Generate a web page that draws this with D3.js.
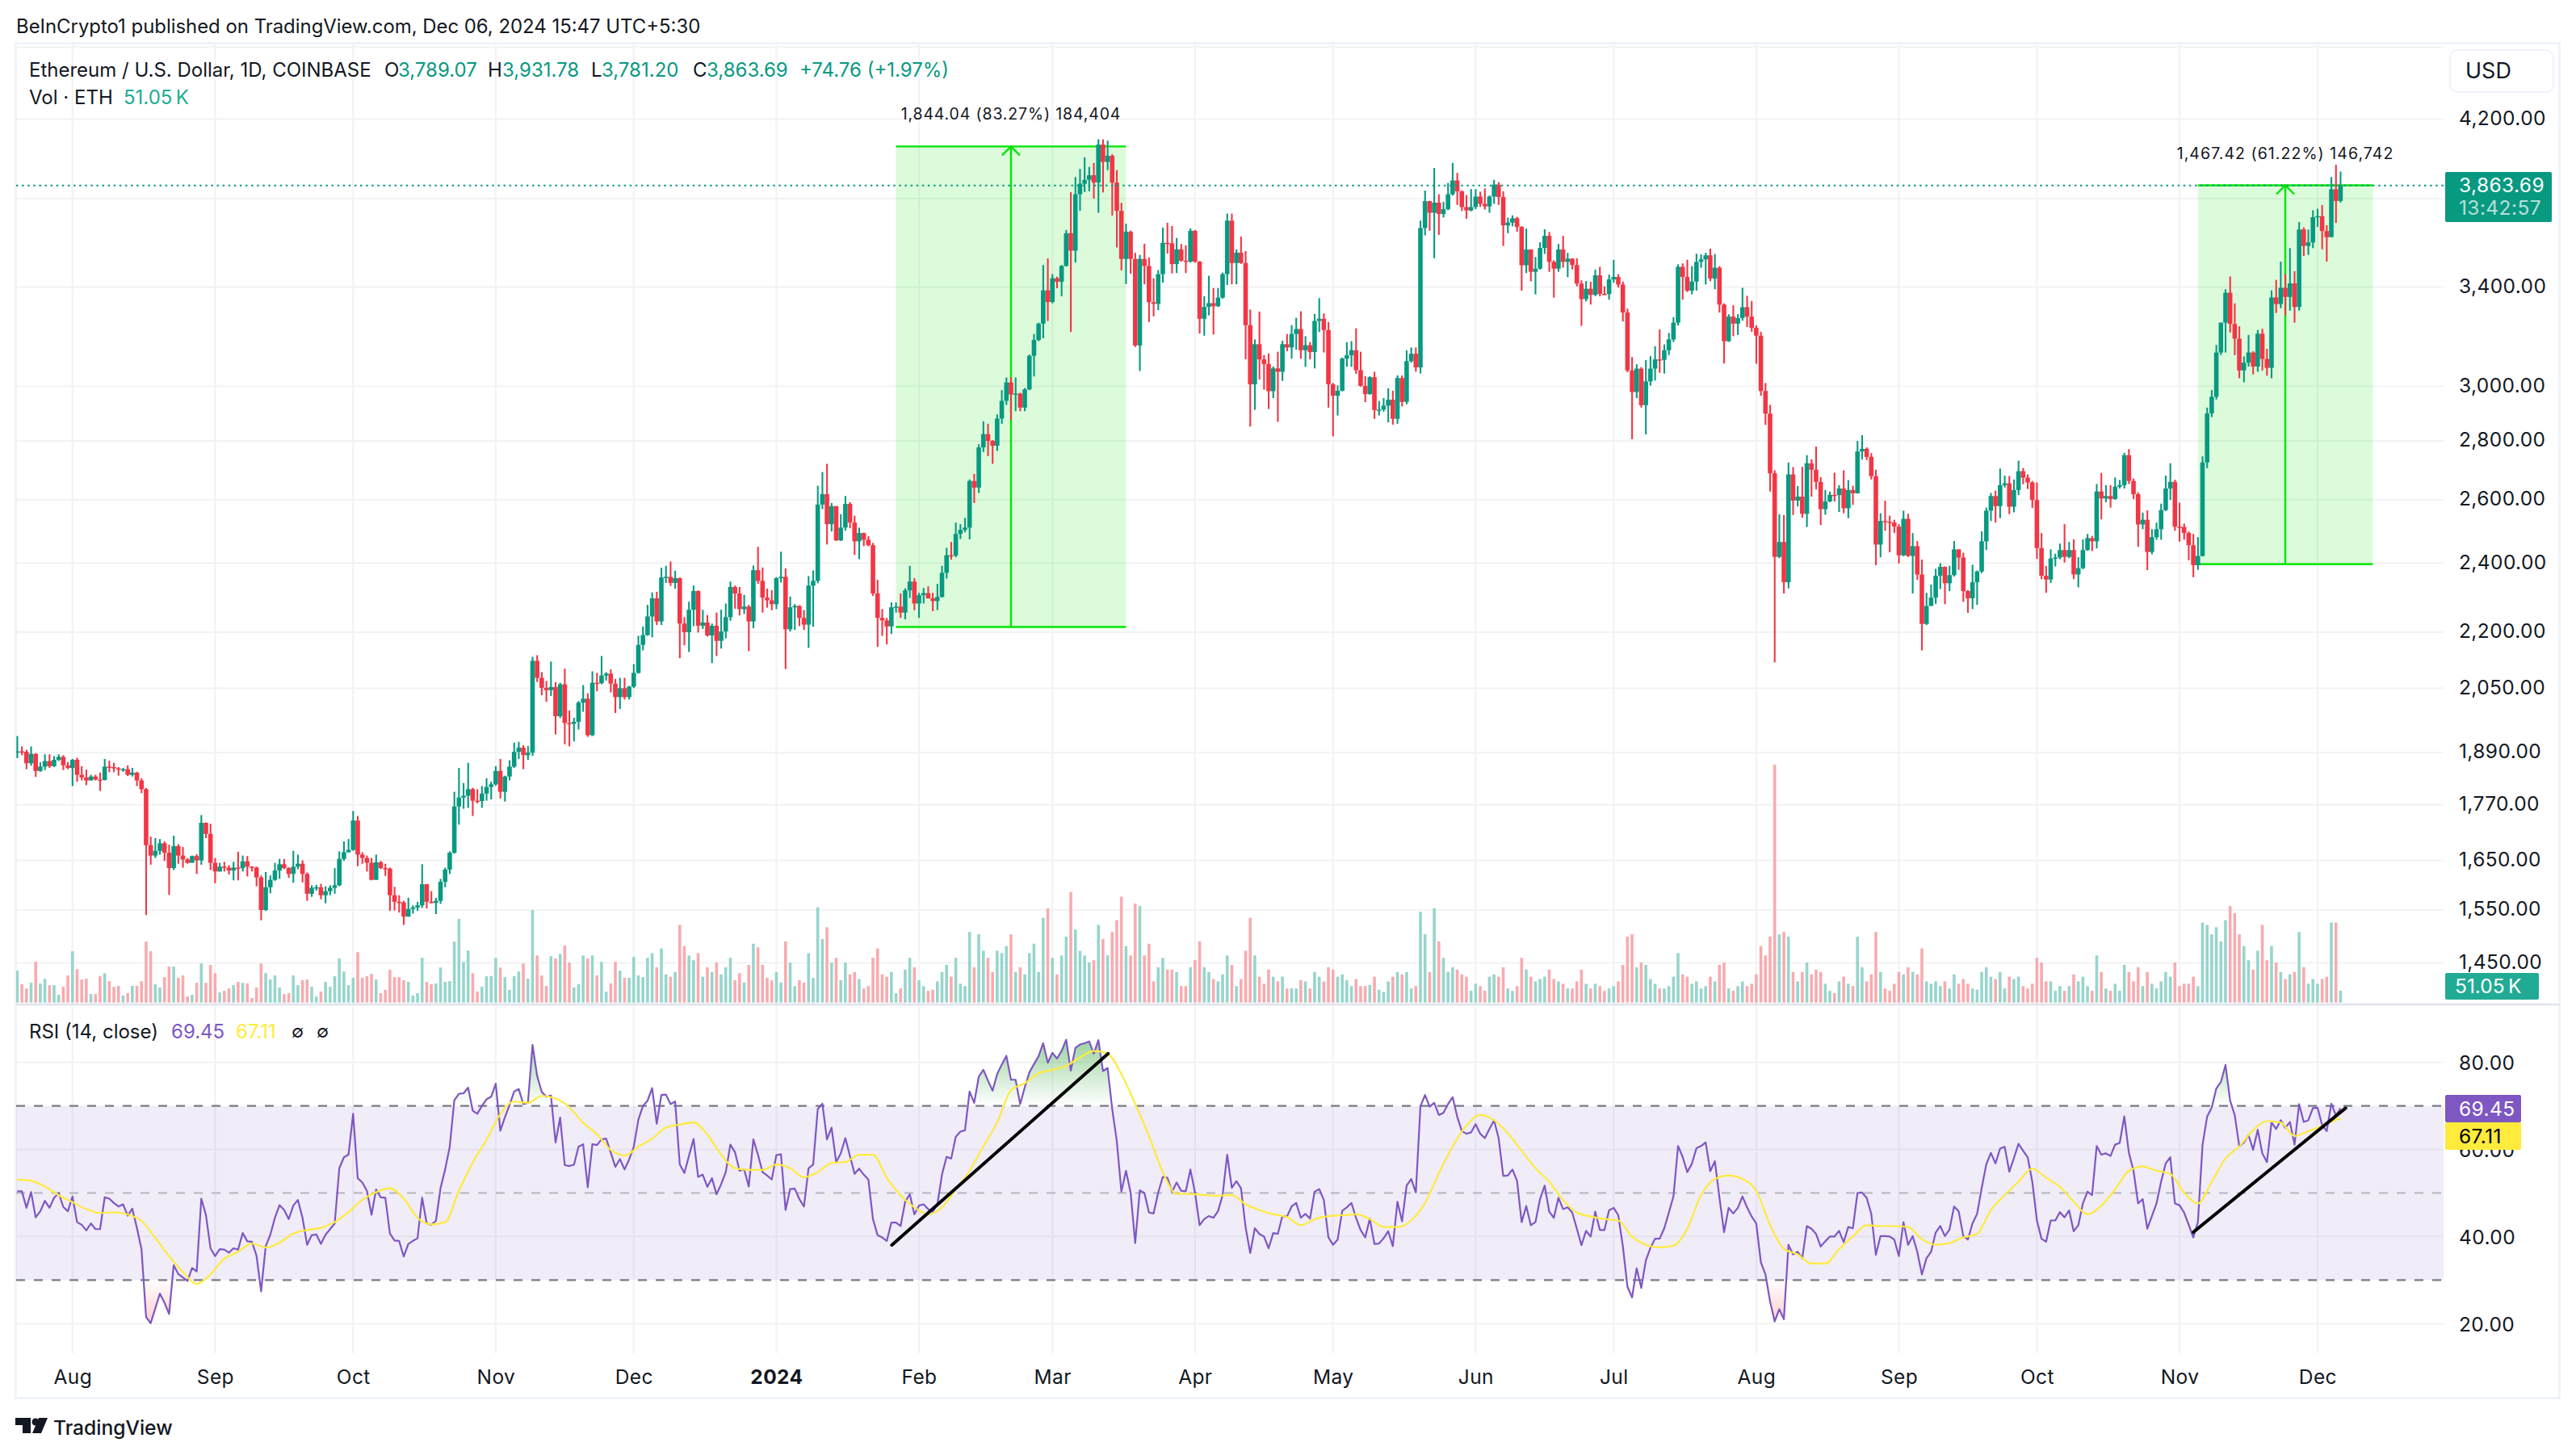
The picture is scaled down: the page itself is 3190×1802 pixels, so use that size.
<!DOCTYPE html>
<html><head><meta charset="utf-8">
<script src="https://cdn.jsdelivr.net/npm/d3@7"></script>
<style>html,body{margin:0;background:#fff}svg{display:block}text{font-family:Inter,sans-serif}</style>
</head><body><svg id="c" width="3190" height="1802"></svg>
<script>
const firstOpen=1890;
const closes=[
1893,1892,1865,1887,1847,1857,1870,1858,1873,1880,
1860,1854,1873,1838,1832,1825,1834,1827,1826,1857,
1856,1853,1850,1851,1838,1843,1825,1805,1682,1660,
1670,1686,1666,1634,1680,1660,1652,1645,1659,1650,
1730,1706,1645,1627,1637,1635,1629,1635,1634,1648,
1637,1635,1615,1550,1595,1610,1629,1642,1634,1622,
1637,1643,1622,1582,1594,1595,1579,1587,1594,1599,
1653,1667,1672,1735,1662,1655,1645,1610,1646,1634,
1633,1579,1566,1565,1537,1552,1555,1559,1601,1566,
1564,1568,1606,1631,1666,1766,1786,1790,1805,1779,
1778,1795,1810,1816,1847,1799,1834,1857,1892,1902,
1884,1890,2122,2077,2051,2045,2053,1979,2060,1962,
1960,1965,2013,2023,1932,2064,2063,2083,2088,2062,
2027,2050,2027,2054,2090,2165,2192,2244,2296,2230,
2357,2359,2341,2355,2224,2200,2263,2317,2218,2227,
2191,2218,2176,2202,2242,2329,2310,2265,2272,2230,
2379,2347,2298,2290,2279,2355,2359,2208,2270,2274,
2240,2221,2333,2347,2584,2618,2521,2579,2470,2510,
2586,2526,2467,2493,2472,2455,2310,2240,2233,2216,
2270,2272,2255,2319,2345,2281,2305,2311,2296,2288,
2300,2371,2424,2423,2490,2503,2510,2662,2640,2777,
2824,2800,2783,2880,2945,3014,2969,2972,2920,2988,
3117,3180,3246,3385,3336,3437,3422,3491,3638,3559,
3821,3872,3891,3914,3878,4068,3980,4011,3878,3742,
3522,3645,3522,3158,3522,3491,3335,3328,3455,3594,
3592,3499,3565,3514,3510,3649,3510,3266,3315,3331,
3318,3354,3455,3696,3504,3550,3504,3240,3007,3163,
3103,3085,2981,3068,3055,3163,3150,3204,3224,3139,
3159,3132,3257,3266,3220,3007,2964,2983,3106,3119,
3139,3061,3001,2970,3034,2911,2913,2927,2949,2879,
3031,2941,3096,3125,3072,3662,3788,3733,3781,3727,
3750,3821,3888,3835,3760,3744,3760,3810,3775,3763,
3810,3868,3808,3674,3687,3707,3667,3494,3564,3465,
3479,3571,3626,3509,3479,3564,3509,3523,3495,3414,
3348,3392,3366,3450,3370,3369,3432,3443,3410,3292,
3060,2978,3067,2929,3018,3067,3103,3101,3139,3182,
3250,3487,3443,3384,3423,3509,3520,3538,3436,3483,
3325,3175,3275,3246,3269,3314,3275,3229,3197,2982,
2898,2688,2419,2465,2343,2684,2597,2610,2554,2722,
2700,2659,2569,2594,2616,2615,2637,2572,2632,2621,
2763,2772,2744,2678,2457,2531,2528,2526,2513,2424,
2538,2422,2452,2366,2223,2274,2298,2362,2389,2340,
2364,2442,2417,2317,2296,2343,2375,2467,2564,2612,
2579,2648,2654,2577,2632,2695,2673,2657,2599,2446,
2362,2351,2414,2417,2440,2419,2440,2366,2385,2440,
2477,2467,2627,2604,2612,2602,2643,2648,2750,2662,
2618,2520,2535,2434,2480,2505,2566,2637,2659,2513,
2512,2493,2455,2394,2422,2725,2899,2960,3130,3250,
3375,3245,3185,3060,3090,3130,3075,3205,3105,3070,
3355,3327,3396,3357,3415,3315,3655,3580,3596,3712,
3717,3648,3620,3845,3789,3863.69];
const highs=[
1930,1905,1897,1905,1889,1867,1886,1886,1882,1886,
1884,1868,1875,1878,1858,1850,1838,1838,1843,1875,
1871,1866,1856,1854,1860,1854,1845,1830,1808,1700,
1697,1695,1690,1683,1702,1684,1678,1655,1660,1663,
1747,1731,1728,1655,1645,1647,1640,1647,1668,1660,
1659,1638,1637,1619,1626,1619,1645,1653,1653,1636,
1670,1662,1650,1625,1599,1600,1602,1597,1599,1634,
1669,1690,1695,1756,1745,1667,1660,1655,1662,1649,
1643,1635,1596,1579,1568,1574,1559,1566,1642,1602,
1587,1574,1612,1635,1669,1799,1854,1819,1866,1808,
1805,1812,1830,1822,1858,1875,1836,1872,1914,1916,
1908,1906,2133,2137,2092,2069,2120,2066,2064,2101,
1993,1975,2017,2058,2037,2094,2090,2135,2092,2099,
2074,2077,2077,2056,2113,2190,2216,2277,2313,2315,
2386,2392,2405,2377,2357,2242,2286,2333,2319,2263,
2248,2224,2255,2263,2281,2345,2333,2329,2306,2277,
2393,2450,2387,2324,2320,2358,2435,2384,2301,2279,
2276,2262,2361,2378,2646,2692,2720,2589,2579,2553,
2612,2592,2548,2510,2494,2483,2462,2350,2265,2240,
2284,2284,2310,2325,2392,2355,2312,2326,2331,2312,
2338,2392,2447,2465,2526,2521,2541,2667,2686,2788,
2870,2861,2803,2895,2985,3033,3033,3033,2975,2993,
3122,3204,3250,3495,3524,3455,3444,3495,3653,3831,
3905,3945,4003,3955,3975,4095,4095,4088,4019,3939,
3780,3682,3650,3549,3540,3590,3528,3437,3473,3664,
3686,3671,3616,3589,3583,3660,3653,3512,3360,3448,
3395,3395,3462,3729,3729,3565,3623,3557,3304,3182,
3296,3120,3126,3075,3133,3177,3204,3240,3270,3297,
3195,3172,3286,3352,3288,3253,3012,3003,3110,3171,
3175,3227,3133,3038,3038,3055,2945,2955,2992,2983,
3041,3041,3139,3150,3150,3696,3839,3790,3950,3821,
3785,3876,3975,3925,3840,3817,3846,3846,3833,3849,
3815,3891,3880,3836,3710,3721,3714,3670,3659,3565,
3531,3597,3656,3644,3516,3589,3626,3549,3525,3525,
3428,3425,3422,3475,3487,3402,3453,3518,3455,3423,
3308,3112,3084,3073,3100,3116,3155,3222,3162,3208,
3273,3498,3502,3518,3490,3545,3542,3549,3568,3544,
3490,3330,3285,3322,3285,3396,3362,3340,3239,3213,
3012,2930,2698,2553,2550,2725,2709,2645,2710,2750,
2736,2780,2675,2632,2627,2690,2648,2698,2665,2646,
2800,2820,2777,2757,2700,2556,2597,2548,2535,2521,
2564,2554,2493,2468,2411,2312,2336,2383,2400,2390,
2392,2468,2442,2432,2320,2395,2378,2498,2574,2622,
2630,2704,2680,2679,2667,2731,2706,2684,2662,2657,
2493,2392,2442,2429,2460,2521,2465,2473,2418,2473,
2490,2484,2652,2689,2648,2648,2674,2665,2758,2771,
2670,2624,2558,2565,2505,2526,2587,2680,2722,2666,
2590,2523,2498,2490,2480,2746,2920,2985,3160,3250,
3390,3445,3330,3235,3115,3200,3135,3220,3225,3145,
3385,3430,3510,3455,3570,3468,3690,3665,3655,3745,
3752,3770,3675,3905,3966,3931.78];
const lows=[
1877,1884,1851,1859,1833,1845,1849,1854,1856,1870,
1849,1851,1812,1822,1825,1814,1825,1825,1801,1825,
1844,1844,1836,1845,1835,1834,1812,1796,1540,1641,
1655,1662,1649,1580,1630,1643,1635,1643,1645,1622,
1641,1697,1630,1603,1627,1627,1621,1609,1609,1627,
1617,1627,1597,1530,1548,1583,1608,1612,1632,1614,
1604,1632,1605,1568,1576,1588,1571,1563,1579,1582,
1597,1649,1666,1670,1638,1643,1627,1609,1610,1632,
1618,1548,1549,1545,1521,1537,1543,1548,1554,1553,
1563,1542,1562,1595,1622,1664,1726,1761,1763,1745,
1773,1763,1779,1782,1813,1784,1777,1825,1854,1875,
1851,1873,1882,2066,2032,2015,2030,1934,1974,1910,
1905,1917,1946,1990,1928,1930,2042,2060,2070,2039,
1987,1997,2021,2021,2050,2088,2150,2190,2186,2220,
2220,2341,2332,2324,2129,2164,2146,2217,2199,2209,
2188,2116,2135,2155,2183,2232,2266,2247,2251,2148,
2211,2338,2255,2269,2262,2265,2342,2100,2202,2206,
2217,2206,2157,2215,2340,2569,2457,2498,2468,2468,
2500,2508,2425,2412,2452,2452,2303,2160,2190,2166,
2195,2255,2240,2236,2297,2262,2240,2281,2295,2259,
2262,2298,2354,2411,2418,2474,2495,2473,2589,2622,
2761,2747,2720,2765,2861,2930,2875,2907,2907,2907,
2985,3037,3175,3187,3257,3330,3394,3360,3488,3212,
3506,3742,3832,3835,3800,3733,3830,3939,3720,3573,
3471,3412,3457,3152,3058,3411,3253,3276,3302,3418,
3546,3458,3460,3510,3460,3505,3505,3206,3197,3280,
3202,3315,3350,3408,3411,3411,3500,3103,2851,2912,
3025,2987,2915,2955,2868,3020,3135,3106,3141,3106,
3074,3103,3068,3212,3130,2920,2816,2891,2980,3074,
3074,3047,2998,2940,2968,2879,2891,2905,2866,2858,
2861,2924,2932,3090,3055,3048,3628,3649,3525,3630,
3711,3745,3815,3770,3741,3705,3740,3750,3760,3748,
3733,3775,3770,3580,3638,3670,3645,3384,3460,3424,
3368,3475,3544,3465,3354,3465,3483,3442,3476,3402,
3237,3338,3325,3360,3360,3365,3346,3418,3397,3255,
3053,2806,2955,2920,2823,3002,3021,3051,3048,3120,
3172,3238,3346,3378,3368,3384,3483,3410,3424,3390,
3292,3087,3172,3195,3200,3258,3232,3213,3086,2964,
2857,2627,2118,2415,2310,2325,2550,2578,2541,2512,
2610,2634,2518,2551,2592,2594,2560,2556,2540,2583,
2620,2735,2733,2667,2394,2418,2500,2433,2493,2399,
2421,2419,2310,2350,2150,2220,2275,2280,2323,2279,
2317,2360,2380,2286,2254,2265,2277,2370,2440,2531,
2526,2540,2640,2553,2559,2615,2651,2635,2573,2413,
2352,2312,2341,2390,2412,2402,2415,2352,2328,2382,
2438,2437,2445,2536,2592,2574,2600,2637,2637,2652,
2602,2450,2505,2379,2427,2472,2472,2563,2599,2500,
2466,2472,2409,2358,2380,2420,2705,2885,2950,3120,
3130,3210,3120,3030,3015,3075,3045,3055,3060,3040,
3030,3290,3310,3280,3300,3250,3300,3535,3540,3570,
3667,3565,3510,3620,3685,3781.20];
const volumes=[
136,78,60,84,173,81,101,74,74,33,67,115,218,142,98,101,36,36,112,125,
91,67,71,30,40,71,71,91,259,218,78,64,108,153,153,105,115,26,33,84,
166,84,160,125,43,50,60,74,88,84,81,19,64,166,125,98,115,64,36,40,
115,74,95,98,67,26,47,88,67,112,187,132,74,105,214,105,112,122,98,40,
54,139,108,108,95,88,30,40,190,88,78,81,149,88,91,259,355,173,221,125,
47,67,112,112,190,149,108,54,112,132,166,101,393,200,115,71,197,187,207,242,
170,64,78,200,187,200,115,173,47,81,173,136,105,105,194,115,108,
190,210,150,230,120,110,130,330,240,200,
180,210,110,150,130,170,120,150,190,95,
125,85,160,250,235,160,105,95,130,85,
260,170,70,95,85,210,105,405,270,320,
170,190,95,170,120,130,100,60,70,190,
230,120,110,130,40,60,140,190,150,95,
70,50,55,90,130,160,110,190,80,70,
300,150,290,220,190,130,220,210,240,290,
130,150,120,210,250,130,360,400,190,120,
200,280,470,310,220,200,170,180,330,270,
200,300,350,450,240,200,420,410,200,250,
90,150,190,140,140,130,70,70,150,180,
260,150,130,100,90,120,200,160,70,100,
220,360,200,110,80,140,110,90,110,60,
60,60,95,90,60,130,110,90,150,140,
110,120,95,70,100,70,70,75,110,55,
45,90,110,130,120,130,60,70,385,290,
130,400,260,190,130,150,140,120,110,50,
80,70,50,110,120,110,150,60,50,70,
190,140,110,90,100,110,140,100,90,80,
60,60,90,140,80,60,80,70,50,60,
70,90,160,280,290,150,170,160,100,80,
60,60,70,110,210,120,110,80,90,60,
70,110,90,160,170,60,50,70,90,70,
80,120,240,200,280,1010,290,300,280,130,
90,130,170,120,140,130,80,50,40,90,
110,80,70,280,150,90,120,300,130,60,
50,80,130,120,150,130,120,230,90,80,
90,70,90,60,120,80,100,80,60,55,
130,150,110,100,130,60,110,100,110,70,
60,80,190,170,90,90,50,70,50,70,
120,90,110,70,50,200,130,60,50,80,
50,160,130,90,150,70,130,80,60,90,
130,110,170,70,80,80,110,70,340,330,
290,320,260,350,410,380,290,240,180,140,
220,330,180,240,170,130,100,120,130,300,
150,80,100,80,100,110,340,340,51.05];
const rsi=[
50.4,50.4,46.6,50.2,44.4,45.8,48.2,46.6,48.9,50,
46.8,45.8,49.2,43.3,42.7,41.4,43,41.7,41.7,49,
48.7,47.7,46.9,47.4,44.8,46.4,42,37.1,21.5,20.1,
23.5,26.9,24.8,22.2,33.4,31.4,30.6,29.8,32.8,32,
48.7,45,37.3,35.5,37.1,37,36.3,37.3,37,40.8,
38.9,38.8,35.6,27.4,37.8,40.4,44.3,47.2,46.1,44,
47.1,48.4,44.3,38.1,40.3,40.5,38.3,40.4,41.7,43,
55.7,58.2,58.8,68.2,53.4,52.4,50.5,45,50.8,49,
48.9,40.7,39.1,39,35.4,38.3,39,39.6,48.9,43,
42.7,43.6,51.1,55.4,60.6,71.3,72.8,72.9,74.2,68.9,
68.2,70,71.5,72.1,75.1,64.3,67.4,70.2,73.3,73.9,
70.4,70.7,84,76.9,73.2,72.1,72.4,61.6,67.3,56.4,
56.2,56.5,60.6,61.2,51.3,61.2,61,62.3,62.5,59.3,
56,57.8,55.4,57.7,60.6,66.8,70,71.2,74.1,65.9,
72.5,72.6,70.4,71,56.6,54.6,58.5,62.4,53.7,54.2,
51.4,53.4,49.7,52,54.8,61.1,59.4,55.1,55.4,51.5,
62.3,58.8,54.8,54,53.1,58.7,58.9,46.1,50.9,51,
48.6,46.9,55.7,56.5,69.3,70.5,62.3,65,57.1,59.1,
62.6,58.5,54.4,55.6,54.2,53.1,44,40.3,39.8,39,
43.2,43.2,42.4,48,49.7,45.1,47.1,47.4,46.3,45.7,
47.4,54.2,58.3,57.9,62.9,64.1,64.4,73.3,70.7,76.7,
78.3,75.8,73.5,77.3,79.5,81.5,76,76,70.4,74.3,
77.7,79.6,81.4,84.4,79.9,82.2,80.9,82.6,85.2,78.1,
83.3,84.1,84.4,84.8,82,85.1,78,78.7,69.3,61.9,
50.3,55.1,50.1,38.5,50.6,50,45.5,45.3,50.1,53.7,
53.5,50.3,52.4,50.5,50.4,55.4,50.1,42.6,44,44.7,
44.3,45.8,49.5,58.8,51.2,52.7,51.1,42.1,36.2,41.9,
40.6,40,37.3,40.8,40.6,44.7,44.6,46.9,47.7,44.3,
45.2,44.1,50.3,50.9,48.4,39.8,38.1,39.3,45.9,46.7,
47.7,44.3,41.5,39.8,44.1,38.3,38.4,39.6,41.2,37.8,
48,43.5,51.7,53.2,50.1,69.9,72.5,69.8,70.7,67.9,
68.4,70.4,72,67.5,64.2,63.6,63.9,65.8,63.6,62.6,
64.7,66.7,62.6,53.9,54,55.4,52.8,43.3,47,42.6,
43.3,48.6,51.7,45.7,44.3,48.9,46.3,46.7,45.5,41.8,
38,41.3,40,45.7,41.5,41.5,46,46.6,44.9,37.8,
28.5,26,32.7,28.2,34.5,37.4,39.5,39.5,41.9,45.5,
49.2,60.8,58.3,54.8,56.7,60.3,60.8,61.6,55,57.3,
48.9,41,46.6,45.3,46.6,49.2,46.7,44.6,43,34.1,
31.3,25.1,20.5,23.3,21,38.1,35.9,36.5,35,42.4,
41.8,40.6,37.7,38.9,40,40,41.3,38.7,42.2,41.9,
50,50.1,48.9,45.2,35.8,40.1,40.1,40,39.3,35.5,
43.3,38.1,40.1,36.5,31.3,35,36.5,40.9,42.4,40.1,
41.6,46.9,45.8,40.1,39.3,43,45.2,51.1,56.6,59.2,
56.8,60.2,60.6,54.9,58,61.3,59.7,58.2,52.6,43.7,
39.5,38.8,43.7,43.7,45.6,44.4,46,41.2,42.6,47.6,
50.3,49.5,60.8,58.8,59.1,58.5,61.1,61.5,67.6,59.2,
55.1,47.6,48.6,41.8,44.7,47.6,52.6,56.8,58.2,47.6,
47.2,45.5,42.7,39.8,43.3,61,67.5,69.6,74,75.5,
79.4,71.2,67.9,60.7,61.6,63.3,59.9,64.5,59.1,57.1,
66.2,64.7,66.7,65,66.3,61.1,70.4,66.3,66.7,69.5,
69.6,65.6,64.2,70.5,67.8,69.45];
const rsiMaEvery3=[
53.1,52.8,51.5,49.5,47.9,46.3,45.4,45.6,45.1,43.6,
39.7,35.5,31.9,29.1,31.3,34.9,36.5,38.4,37.5,38.6,
40.7,41.5,42,43.3,45.6,48.4,50.2,51.1,48.7,44.3,
42.8,43.3,50.5,57,62.2,68.1,71,70.7,72.3,71.7,
69.7,66.1,63.5,59.9,58.6,60.6,62.5,65,65.7,66.2,
63.4,58.8,55.7,55.3,55.3,56.5,55.7,53.6,54.8,56.9,
57.1,58.8,58.8,53.5,49.5,46.7,45.1,46.7,50.8,55.1,
60.7,66.2,73.6,75.2,77.5,78.3,79.2,81.1,82.6,82,
77.3,70.5,63.1,54.8,49.8,49.8,49.5,49.4,49.5,47.4,
46.1,45.1,44.5,42.6,44,44.7,44.9,45.1,44,42.2,
42.2,43.7,47.7,54.5,60.7,65.5,67.9,66.7,63.7,59.7,
55.7,52.6,48.4,45.5,44.6,44,43.7,40,38.1,37.5,
37.9,41.8,49.5,53.2,54,53.2,50.5,42.7,37.2,35.9,
33.8,33.8,37.1,40,42.6,42.4,42.4,42.2,39.4,38.1,
38.5,39.8,40.6,46.1,49.5,52.6,55.6,53.5,51.4,48,
45.1,47.1,50.8,55.1,56.1,55.1,54.4,50.1,47.6,52.6,
57.9,60.7,64.4,66.5,66.2,63.1,64.2,65.4,66.8,67.11];
const rsiMaIndex=d3.range(0,505,3).concat([505]);
const priceLabels=[4200,3400,3000,2800,2600,2400,2200,2050,1890,1770,1650,1550,1450];
const priceGrid=[4600,4200,3800,3400,3000,2800,2600,2400,2200,2050,1890,1770,1650,1550,1450];
const rsiLabels=[80,60,40,20];
const monthTicks=[[2023,7],[2023,8],[2023,9],[2023,10],[2023,11],[2024,0],[2024,1],[2024,2],[2024,3],[2024,4],[2024,5],[2024,6],[2024,7],[2024,8],[2024,9],[2024,10],[2024,11]].map(d=>new Date(Date.UTC(d[0],d[1],1)));
const measures=[{from:2214.5,to:4058.54,i0:191,i1:241,iArrow:216,label:"1,844.04 (83.27%) 184,404"},
                {from:2397,to:3864.42,i0:474,i1:512,iArrow:493,label:"1,467.42 (61.22%) 146,742"}];
const trendlines=[[190.1,38.05,237.1,82],[473,41,506.1,69.5]];

const GREEN="#089981",RED="#F23645",INK="#131722",GRID="#F3F3F5",FRAME="#F0F3FA";
const day=i=>new Date(Date.UTC(2023,6,20+i));
const x=d3.scaleUtc().domain([day(0),day(505)]).range([21.4,2898.4]);
const yP=d3.scaleLog().domain([4200,1450]).range([147.7,1192.5]);
const yV=d3.scaleLinear().domain([0,1000]).range([1241.7,950]);
const yR=d3.scaleLinear().domain([20,80]).range([1639.3,1315.7]);
const L=20,R=3026,xi=i=>x(day(0))+(x(day(1))-x(day(0)))*i;
const svg=d3.select("#c");
const defs=svg.append("defs");
defs.append("clipPath").attr("id","pl").append("rect").attr("x",L).attr("y",53).attr("width",R-L).attr("height",1191);
defs.append("clipPath").attr("id","ob").append("rect").attr("x",L).attr("y",1250).attr("width",R-L).attr("height",yR(70)-1250);
defs.append("clipPath").attr("id","os").append("rect").attr("x",L).attr("y",yR(30)).attr("width",R-L).attr("height",100);
const g1=defs.append("linearGradient").attr("id","gOb").attr("gradientUnits","userSpaceOnUse").attr("x1",0).attr("x2",0).attr("y1",yR(85)).attr("y2",yR(70));
g1.append("stop").attr("offset",0).attr("stop-color","#4CAF50").attr("stop-opacity",.55);
g1.append("stop").attr("offset",1).attr("stop-color","#4CAF50").attr("stop-opacity",0);
const g2=defs.append("linearGradient").attr("id","gOs").attr("gradientUnits","userSpaceOnUse").attr("x1",0).attr("x2",0).attr("y1",yR(30)).attr("y2",yR(20));
g2.append("stop").attr("offset",0).attr("stop-color","#FF5252").attr("stop-opacity",0);
g2.append("stop").attr("offset",1).attr("stop-color","#FF5252").attr("stop-opacity",.3);

// frame
svg.append("rect").attr("x",19.5).attr("y",53.5).attr("width",3150).attr("height",1678).attr("fill","none").attr("stroke",FRAME).attr("stroke-width",3);
// grid
const grid=svg.append("g").attr("stroke",GRID).attr("stroke-width",2.2);
grid.selectAll(".v").data(monthTicks).join("line").attr("x1",d=>x(d)).attr("x2",d=>x(d)).attr("y1",54).attr("y2",1676);
grid.selectAll(".h").data(priceGrid).join("line").attr("x1",L).attr("x2",R).attr("y1",d=>yP(d)).attr("y2",d=>yP(d));
svg.append("line").attr("x1",L).attr("x2",3170).attr("y1",1244).attr("y2",1244).attr("stroke","#E0E3EB").attr("stroke-width",2.5);
// RSI band
svg.append("rect").attr("x",L).attr("width",R-L).attr("y",yR(70)).attr("height",yR(30)-yR(70)).attr("fill","#7E57C2").attr("fill-opacity",.115);
svg.append("g").attr("stroke-width",2.2).selectAll("line").data(rsiLabels).join("line").attr("x1",L).attr("x2",R).attr("y1",d=>yR(d)).attr("y2",d=>yR(d)).attr("stroke",d=>(d==60||d==40)?"#E6E3EE":GRID);
svg.selectAll(".rd").data([[70,"#787B86"],[50,"#B4B5BA"],[30,"#787B86"]]).join("line").attr("x1",L).attr("x2",R).attr("y1",d=>yR(d[0])).attr("y2",d=>yR(d[0])).attr("stroke",d=>d[1]).attr("stroke-width",2.2).attr("stroke-dasharray","11 11");

// measure boxes
const mg=svg.append("g");
measures.forEach(m=>{
  const a=xi(m.i0),b=xi(m.i1),t=yP(m.to),f=yP(m.from),c=xi(m.iArrow);
  mg.append("rect").attr("x",a).attr("width",b-a).attr("y",t).attr("height",f-t).attr("fill","#00E600").attr("fill-opacity",.14);
  mg.selectAll(null).data([t,f]).join("line").attr("x1",a).attr("x2",b).attr("y1",d=>d).attr("y2",d=>d).attr("stroke","#00E600").attr("stroke-width",2.4);
  mg.append("line").attr("x1",c).attr("x2",c).attr("y1",t).attr("y2",f).attr("stroke","#00E600").attr("stroke-width",2.4);
  mg.append("path").attr("d",`M${c-11},${t+11}L${c},${t}L${c+11},${t+11}`).attr("fill","none").attr("stroke","#00E600").attr("stroke-width",2.4);
  mg.append("text").attr("x",c).attr("y",t-40).attr("text-anchor","middle").attr("dominant-baseline","central").attr("font-size",19.5).attr("fill",INK).attr("letter-spacing",m.i0>300?1.05:.85).text(m.label);
});

const opens=closes.map((c,i)=>i?closes[i-1]:firstOpen);
const up=i=>closes[i]>=opens[i];
const plot=svg.append("g").attr("clip-path","url(#pl)");
plot.append("g").selectAll("rect").data(volumes).join("rect")
  .attr("x",(d,i)=>xi(i)-1.8).attr("width",3.6).attr("y",d=>yV(d)).attr("height",d=>yV(0)-yV(d))
  .attr("fill",(d,i)=>up(i)?"#97D5CC":"#F8ABAF");
const cg=plot.append("g");
cg.selectAll(".w").data(closes).join("rect").attr("x",(d,i)=>xi(i)-1).attr("width",2.1)
  .attr("y",(d,i)=>yP(Math.max(highs[i],d,opens[i]))).attr("height",(d,i)=>yP(Math.min(lows[i],d,opens[i]))-yP(Math.max(highs[i],d,opens[i])))
  .attr("fill",(d,i)=>up(i)?GREEN:RED);
cg.selectAll(".b").data(closes).join("rect").attr("x",(d,i)=>xi(i)-2.8).attr("width",5.6)
  .attr("y",(d,i)=>yP(Math.max(d,opens[i]))).attr("height",(d,i)=>Math.max(1.5,Math.abs(yP(d)-yP(opens[i]))))
  .attr("fill",(d,i)=>up(i)?GREEN:RED);
// last price line
svg.append("line").attr("x1",L).attr("x2",R).attr("y1",yP(3863.69)).attr("y2",yP(3863.69)).attr("stroke",GREEN).attr("stroke-width",2).attr("stroke-dasharray","2.5 4.6");

// RSI
const rsiLine=d3.line().x((d,i)=>xi(i)).y(d=>yR(d));
const area70=d3.area().x((d,i)=>xi(i)).y0(yR(70)).y1(d=>yR(d));
const area30=d3.area().x((d,i)=>xi(i)).y0(yR(30)).y1(d=>yR(d));
svg.append("path").attr("d",area70(rsi)).attr("fill","url(#gOb)").attr("clip-path","url(#ob)");
svg.append("path").attr("d",area30(rsi)).attr("fill","url(#gOs)").attr("clip-path","url(#os)");
svg.append("path").attr("d",rsiLine(rsi)).attr("fill","none").attr("stroke","#7E57C2").attr("stroke-width",2.2).attr("stroke-linejoin","round");
svg.append("path").attr("d",d3.line().x((d,k)=>xi(rsiMaIndex[k])).y(d=>yR(d)).curve(d3.curveMonotoneX)(rsiMaEvery3)).attr("fill","none").attr("stroke","#FFEB3B").attr("stroke-width",2.2);
svg.selectAll(".tl").data(trendlines).join("line").attr("x1",d=>xi(d[0])).attr("y1",d=>yR(d[1])).attr("x2",d=>xi(d[2])).attr("y2",d=>yR(d[3])).attr("stroke","#000").attr("stroke-width",4).attr("stroke-linecap","round");

// axes
const fs=24.5;
const axP=svg.append("g").attr("transform","translate(3045,-1)").call(d3.axisRight(yP).tickValues(priceLabels).tickFormat(d3.format(",.2f")).tickSize(0).tickPadding(0));
const axR=svg.append("g").attr("transform","translate(3045,1)").call(d3.axisRight(yR).tickValues(rsiLabels).tickFormat(d3.format(".2f")).tickSize(0).tickPadding(0));
const axX=svg.append("g").attr("transform","translate(0,1697)").call(d3.axisBottom(x).tickValues(monthTicks).tickSize(0).tickPadding(0).tickFormat(d=>d.getUTCMonth()==0?"2024":d3.utcFormat("%b")(d)));
[axP,axR,axX].forEach(a=>{a.select(".domain").remove();a.selectAll("text").attr("font-family","Inter,sans-serif").attr("font-size",fs).attr("fill",INK).attr("letter-spacing",.4);});
axX.selectAll("text").filter(d=>d.getUTCMonth()==0).attr("font-weight",700);

function T(xp,yp,s,o={}){return svg.append("text").attr("x",xp).attr("y",yp).attr("dominant-baseline","central").attr("font-size",o.size||24).attr("fill",o.fill||INK).attr("font-weight",o.w||400).attr("text-anchor",o.a||"start").attr("letter-spacing",o.ls||0).attr("opacity",o.op||1).text(s);}
// top text
T(20,32,"BeInCrypto1 published on TradingView.com, Dec 06, 2024 15:47 UTC+5:30",{size:23.9});
T(36,86,"Ethereum / U.S. Dollar, 1D, COINBASE",{size:24});
[[476,"O"],[604,"H"],[732,"L"],[858,"C"]].forEach(d=>T(d[0],86,d[1]));
[[493,"3,789.07"],[622,"3,931.78"],[745,"3,781.20"],[875,"3,863.69"],[990,"+74.76 (+1.97%)"]].forEach(d=>T(d[0],86,d[1],{fill:GREEN}));
T(36,120,"Vol · ETH");T(153,120,"51.05\u202FK",{fill:"#22AB94"});
T(36,1277,"RSI (14, close)");T(212,1277,"69.45",{fill:"#7E57C2"});T(292,1277,"67.11",{fill:"#FFEB3B"});
T(361,1277,"∅",{size:22});T(392,1277,"∅",{size:22});
// USD button
svg.append("rect").attr("x",3034).attr("y",62).attr("width",128).attr("height",52).attr("rx",9).attr("fill","#fff").attr("stroke",FRAME).attr("stroke-width",2);
T(3053,87,"USD",{size:27});
// badges
svg.append("rect").attr("x",3028).attr("y",213).attr("width",132).attr("height",62).attr("rx",2).attr("fill",GREEN);
T(3045,229,"3,863.69",{size:24.5,fill:"#fff",ls:.4});T(3045,257,"13:42:57",{size:24.5,fill:"#fff",op:.7,ls:.4});
svg.append("rect").attr("x",3028).attr("y",1205).attr("width",116).attr("height",33).attr("rx",2).attr("fill","#22AB94");
T(3040,1221,"51.05\u202FK",{size:24.5,fill:"#fff"});
svg.append("rect").attr("x",3028).attr("y",1356).attr("width",94).attr("height",34).attr("rx",2).attr("fill","#7E57C2");
T(3045,1373,"69.45",{size:24.5,fill:"#fff",ls:.4});
svg.append("rect").attr("x",3028).attr("y",1390).attr("width",94).attr("height",34).attr("rx",2).attr("fill","#FFEB3B");
T(3045,1407,"67.11",{size:24.5,fill:"#000",ls:.4});
// logo
svg.append("path").attr("fill",INK).attr("d","M19,1756H38V1775H28V1765H19Z M59,1756L51,1775H40L48,1756Z");
svg.append("circle").attr("cx",44).attr("cy",1761).attr("r",4.5).attr("fill",INK);
T(66,1768,"TradingView",{size:24.6,w:500});
</script></body></html>
